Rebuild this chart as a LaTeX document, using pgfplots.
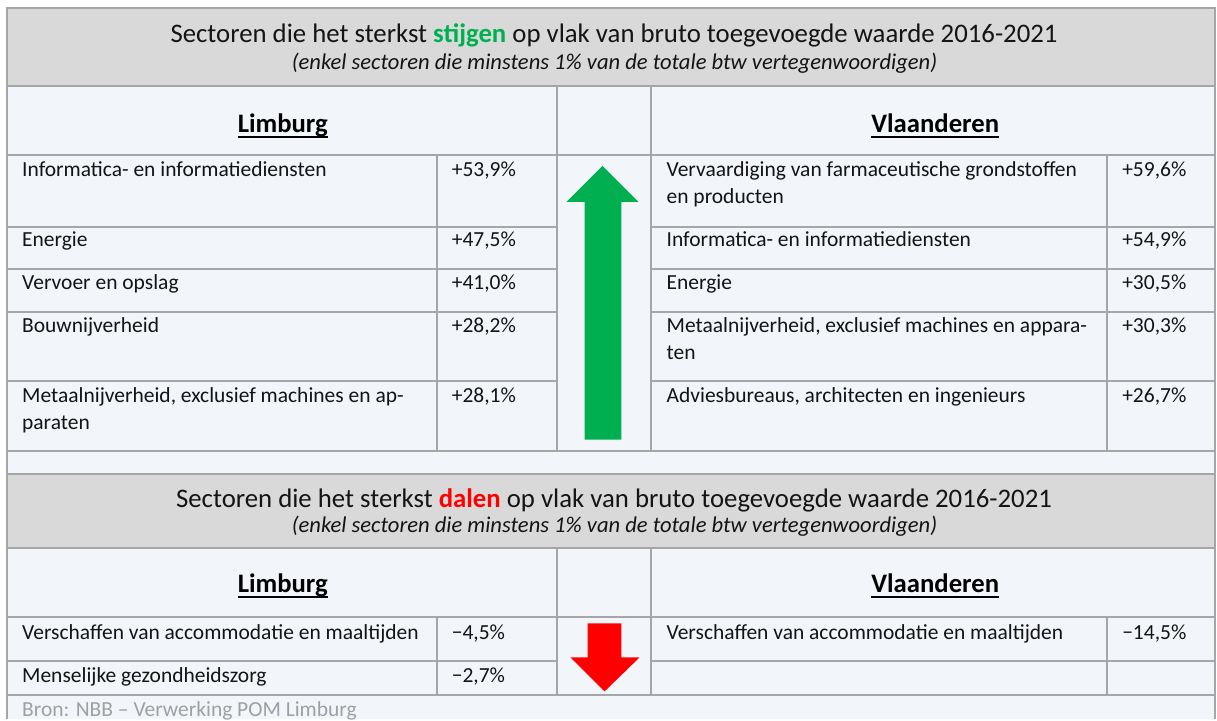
\documentclass[border=0pt]{standalone}
\usepackage{pgfplots}
\pgfplotsset{compat=1.18}
\usepackage{fontspec}
\setmainfont{Carlito}
\definecolor{gridc}{HTML}{A6A6A6}
\definecolor{band}{HTML}{D9D9D9}
\definecolor{light}{HTML}{F2F5FA}
\definecolor{upg}{HTML}{00B050}
\definecolor{downr}{HTML}{FF0000}
\definecolor{txt}{HTML}{141414}
\definecolor{src}{HTML}{A0A0A0}
\newcommand{\bodyf}{\fontsize{21.5}{26}\selectfont}
\newcommand{\headf}{\fontsize{26.7}{30}\selectfont}
\newcommand{\titlef}{\fontsize{26.8}{30}\selectfont}
\newcommand{\subf}{\fontsize{22.6}{26}\selectfont}
\newcommand{\ul}[1]{\setbox0\hbox{#1}\rlap{\rule[-5pt]{\wd0}{2pt}}\box0}
\begin{document}
\begin{tikzpicture}
\begin{axis}[scale only axis, width=1217pt, height=720pt,
  xmin=0, xmax=1217, ymin=0, ymax=720, y dir=reverse,
  hide axis, clip=false]
% backgrounds
\addplot[fill=white, draw=none] coordinates {(0,0) (1217,0) (1217,720) (0,720)} -- cycle;
\addplot[fill=light, draw=none] coordinates {(7,8) (1217,8) (1217,720) (7,720)} -- cycle;
\addplot[fill=band, draw=none] coordinates {(7,8) (1217,8) (1217,86) (7,86)} -- cycle;
\addplot[fill=band, draw=none] coordinates {(7,474) (1217,474) (1217,548) (7,548)} -- cycle;
% arrows
\addplot[fill=upg, draw=none] coordinates {(603,166) (639,202) (622,202) (622,440) (585,440) (585,202) (567,202)} -- cycle;
\addplot[fill=downr, draw=none] coordinates {(588,624) (622,624) (622,658) (640,658) (605,692) (571,658) (588,658)} -- cycle;
% grid lines
\addplot[gridc, line width=2pt] coordinates {(7,8) (1217,8)};
\addplot[gridc, line width=2pt] coordinates {(7,86) (1217,86)};
\addplot[gridc, line width=2pt] coordinates {(7,155) (1217,155)};
\addplot[gridc, line width=2pt] coordinates {(7,227) (557,227)};
\addplot[gridc, line width=2pt] coordinates {(652,227) (1217,227)};
\addplot[gridc, line width=2pt] coordinates {(7,269) (557,269)};
\addplot[gridc, line width=2pt] coordinates {(652,269) (1217,269)};
\addplot[gridc, line width=2pt] coordinates {(7,312) (557,312)};
\addplot[gridc, line width=2pt] coordinates {(652,312) (1217,312)};
\addplot[gridc, line width=2pt] coordinates {(7,381) (557,381)};
\addplot[gridc, line width=2pt] coordinates {(652,381) (1217,381)};
\addplot[gridc, line width=2pt] coordinates {(7,451) (1217,451)};
\addplot[gridc, line width=2pt] coordinates {(7,474) (1217,474)};
\addplot[gridc, line width=2pt] coordinates {(7,548) (1217,548)};
\addplot[gridc, line width=2pt] coordinates {(7,617) (1217,617)};
\addplot[gridc, line width=2pt] coordinates {(7,662) (557,662)};
\addplot[gridc, line width=2pt] coordinates {(652,662) (1217,662)};
\addplot[gridc, line width=2pt] coordinates {(7,696) (1217,696)};
\addplot[gridc, line width=2pt] coordinates {(7,7) (7,720)};
\addplot[gridc, line width=2pt] coordinates {(1216,7) (1216,720)};
\addplot[gridc, line width=2pt] coordinates {(437,155) (437,451)};
\addplot[gridc, line width=2pt] coordinates {(557,86) (557,451)};
\addplot[gridc, line width=2pt] coordinates {(652,86) (652,451)};
\addplot[gridc, line width=2pt] coordinates {(1108,155) (1108,451)};
\addplot[gridc, line width=2pt] coordinates {(437,617) (437,696)};
\addplot[gridc, line width=2pt] coordinates {(557,548) (557,696)};
\addplot[gridc, line width=2pt] coordinates {(652,548) (652,696)};
\addplot[gridc, line width=2pt] coordinates {(1108,617) (1108,696)};
% titles
\node[anchor=base, txt, inner sep=0pt] at (axis cs:614.5,43) {\titlef Sectoren die het sterkst \textcolor{upg}{\textbf{stijgen}} op vlak van bruto toegevoegde waarde 2016-2021};
\node[anchor=base, txt, inner sep=0pt] at (axis cs:615,69.5) {\subf\itshape (enkel sectoren die minstens 1\% van de totale btw vertegenwoordigen)};
\node[anchor=base, txt, inner sep=0pt] at (axis cs:614.5,508) {\titlef Sectoren die het sterkst \textcolor{downr}{\textbf{dalen}} op vlak van bruto toegevoegde waarde 2016-2021};
\node[anchor=base, txt, inner sep=0pt] at (axis cs:615,533) {\subf\itshape (enkel sectoren die minstens 1\% van de totale btw vertegenwoordigen)};
% headers
\node[anchor=base, black, inner sep=0pt] at (axis cs:283,133) {\headf\ul{\textbf{Limburg}}};
\node[anchor=base, black, inner sep=0pt] at (axis cs:936,133) {\headf\ul{\textbf{Vlaanderen}}};
\node[anchor=base, black, inner sep=0pt] at (axis cs:283,593) {\headf\ul{\textbf{Limburg}}};
\node[anchor=base, black, inner sep=0pt] at (axis cs:936,593) {\headf\ul{\textbf{Vlaanderen}}};
\begin{scope}[every node/.style={anchor=base west, inner sep=0pt, txt, font=\bodyf}]
% upper Limburg
\node at (axis cs:22,177) {Informatica- en informatiediensten};
\node at (axis cs:452,177) {+53,9\%};
\node at (axis cs:22,247) {Energie};
\node at (axis cs:452,247) {+47,5\%};
\node at (axis cs:22,290) {Vervoer en opslag};
\node at (axis cs:452,290) {+41,0\%};
\node at (axis cs:22,333) {Bouwnijverheid};
\node at (axis cs:452,333) {+28,2\%};
\node at (axis cs:22,403) {Metaalnijverheid, exclusief machines en ap-};
\node at (axis cs:22,430) {paraten};
\node at (axis cs:452,403) {+28,1\%};
% upper Vlaanderen
\node at (axis cs:667,177) {Vervaardiging van farmaceutische grondstoffen};
\node at (axis cs:667,204) {en producten};
\node at (axis cs:1123,177) {+59,6\%};
\node at (axis cs:667,247) {Informatica- en informatiediensten};
\node at (axis cs:1123,247) {+54,9\%};
\node at (axis cs:667,290) {Energie};
\node at (axis cs:1123,290) {+30,5\%};
\node at (axis cs:667,333) {Metaalnijverheid, exclusief machines en appara-};
\node at (axis cs:667,360) {ten};
\node at (axis cs:1123,333) {+30,3\%};
\node at (axis cs:667,403) {Adviesbureaus, architecten en ingenieurs};
\node at (axis cs:1123,403) {+26,7\%};
% lower
\node at (axis cs:22,640) {Verschaffen van accommodatie en maaltijden};
\node at (axis cs:452,640) {−4,5\%};
\node at (axis cs:22,683) {Menselijke gezondheidszorg};
\node at (axis cs:452,683) {−2,7\%};
\node at (axis cs:667,640) {Verschaffen van accommodatie en maaltijden};
\node at (axis cs:1123,640) {−14,5\%};
\node[src] at (axis cs:22,717) {Bron: NBB – Verwerking POM Limburg};
\end{scope}
\end{axis}
\end{tikzpicture}
\end{document}
